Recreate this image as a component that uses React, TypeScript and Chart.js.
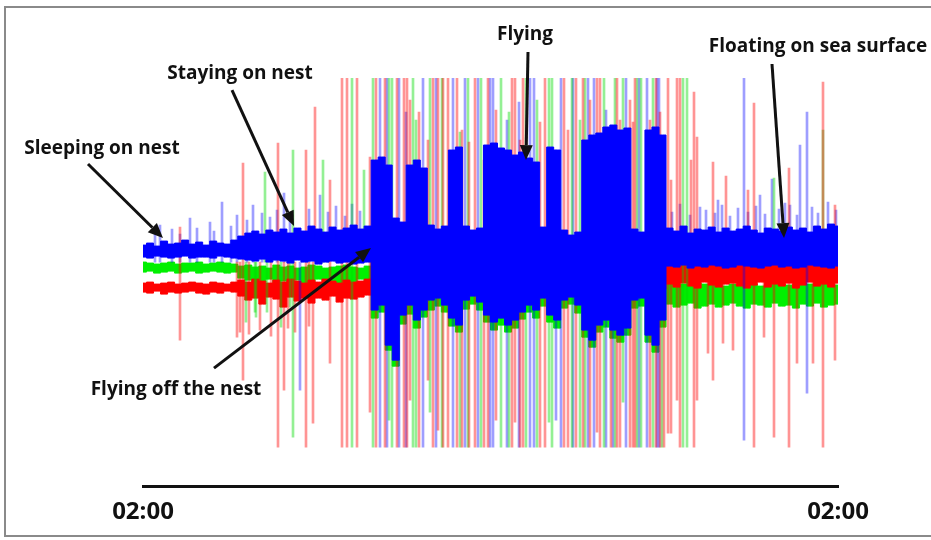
import React, { useEffect, useRef } from "react";
import { Chart, registerables } from "chart.js";

Chart.register(...registerables);

// x: time steps from 02:00 to 02:00 next day (0..695), y: raw acceleration units
const T_MAX = 695;
const tickValues = [0, 695];
const tickLabels = ["02:00", "02:00"];

// envelope of each axis signal, one value per time bin (100 bins over the day)
const blueHi = [
  17, 19, 16, 21, 18, 19, 22, 18, 20, 17, 21, 19, 18, 22,
  26, 29, 31, 28, 32, 30, 33, 29, 34, 31, 36, 33, 30, 35, 32, 34, 37, 33, 36,
  102, 105, 97, 44, 40, 97, 102, 94, 37, 33, 36, 112, 115, 36, 32, 34, 117, 119, 114, 112,
  107, 110, 104, 100, 35, 115, 112, 32, 27, 30, 122, 127, 129, 135, 137, 132, 134, 33, 30,
  132, 135, 127,
  34, 31, 36, 29, 33, 32, 35, 30, 34, 31, 33, 36, 32, 29, 34, 33, 31, 35, 32, 34, 30, 36,
  33, 38, 36,
];
const blueLo = [
  5, 4, 6, 5, 4, 5, 6, 4, 5, 5, 4, 6, 5, 4,
  3, 2, 1, 3, 0, 2, 1, -1, 2, 0, 1, -2, 0, 1, -1, 0, -2, -1, 0,
  -48, -43, -83, -98, -53, -43, -58, -48, -38, -36, -43, -56, -63, -38, -34, -40, -53, -60,
  -56, -63, -58, -50, -43, -48, -36, -53, -58, -38, -35, -43, -68, -78, -63, -58, -68, -73,
  -66, -38, -36, -73, -83, -58,
  -4, -5, -3, -6, -4, -5, -3, -4, -6, -5, -3, -4, -5, -6, -4, -3, -5, -4, -6, -5, -3, -4,
  -5, -6, -4,
];
const greenHi = [
  0, -1, -2, -1, 0, -2, -1, -1, 0, -2, -1, 0, -1, -2,
  -4, -3, -5, -4, -6, -3, -5, -4, -6, -5, -3, -4, -6, -5, -4, -3, -5, -6, -4,
  10, 12, 8, 11, 9, 13, 10, 7, 12, 9, 11, 8, 10, 13, 9, 12, 10, 8, 11, 9, 12, 10, 7, 11,
  9, 13, 10, 8, 12, 9, 11, 10, 8, 12, 9, 11, 13, 10, 8, 12, 9, 11,
  -21, -23, -22, -24, -21, -22, -23, -21, -24, -22, -23, -21, -22, -24, -23, -21, -22, -23,
  -24, -21, -22, -23, -21, -22, -23,
];
const greenLo = [
  -10, -9, -11, -10, -9, -11, -10, -9, -11, -10, -9, -10, -11, -10,
  -16, -18, -24, -20, -17, -26, -19, -22, -18, -28, -20, -17, -23, -19, -21, -18, -20, -17, -19,
  -56, -50, -88, -104, -62, -52, -66, -55, -48, -44, -50, -64, -70, -47, -42, -48, -60, -68,
  -63, -70, -66, -57, -50, -56, -44, -60, -66, -46, -42, -51, -75, -85, -70, -65, -76, -80,
  -73, -46, -44, -80, -90, -65,
  -42, -45, -43, -41, -46, -44, -42, -45, -43, -41, -44, -46, -42, -43, -45, -41, -44, -43,
  -46, -42, -44, -41, -45, -43, -42,
];
const redHi = [
  -21, -20, -22, -21, -20, -22, -21, -20, -21, -22, -20, -21, -22, -20,
  -18, -20, -17, -19, -21, -18, -20, -17, -19, -21, -18, -20, -17, -19, -21, -18, -20, -19, -17,
  4, 6, 2, 5, 3, 7, 4, 2, 6, 3, 5, 2, 4, 7, 3, 6, 4, 2, 5, 3, 6, 4, 2, 5, 3, 7, 4, 2, 6, 3,
  5, 4, 2, 6, 3, 5, 7, 4, 2, 6, 3, 5,
  0, -1, 1, 0, -2, 0, 1, -1, 0, 0, -1, 1, 0, -2, 0, 1, 0, -1, 0, 1, 0, -1, 0, 1, 0,
];
const redLo = [
  -30, -31, -29, -32, -30, -31, -30, -29, -31, -32, -30, -31, -29, -30,
  -34, -38, -36, -42, -35, -37, -45, -35, -39, -36, -41, -36, -38, -34, -40, -36, -37, -35, -33,
  -28, -26, -30, -27, -29, -25, -28, -30, -26, -29, -27, -30, -25, -28, -26, -29, -27, -30,
  -28, -26, -29, -27, -30, -25, -28, -26, -29, -27, -30, -28, -25, -29, -27, -30, -26, -28,
  -27, -29, -26, -30, -28, -27,
  -22, -25, -21, -24, -26, -20, -23, -25, -22, -21, -24, -26, -23, -20, -25, -22, -24, -21,
  -26, -23, -20, -24, -22, -25, -21,
];

// isolated spikes (time, low value, high value)
const redSpikeT = [
  37, 94, 97, 100, 106, 117, 128, 135, 141, 145, 152, 163, 166, 170, 172, 187, 199, 204, 214, 227,
  233, 242, 254, 261, 264, 267, 276, 285, 290, 295, 300, 305, 314, 319, 326, 332, 341, 345, 353,
  369, 372, 377, 380, 397, 402, 421, 425, 433, 440, 447, 454, 457, 468, 474, 477, 487, 490, 492,
  507, 513, 517, 521,
  525, 528, 534, 537, 548, 551, 554, 565, 570, 580, 583, 590, 605, 611, 621, 631, 646, 654,
  670, 680, 692,
];
const redSpikeLo = [
  -78, -75, -70, -118, -72, -68, -74, -185, -128, -66, -70, -185, -64, -161, 0, -101, -185, -185,
  -185, -150,
  -185, -185, -185, -185, -185, -138, -185, -118, -185, -168, -185, -185, -185, -185, -185, -185,
  -185, -185, -158, -185, -160, -185, -185, -185, -185, -185, -185, -185, -185, -185, -170, -185,
  -185, -185, -185, -185, -185, -185, -185, -185, -185, -185,
  -171, -171, -138, -185, 0, -185, -138, -91, -118, -81, 0, -88, 0, -185, -75, -175, -185,
  -101, -101, -185, -98,
];
const redSpikeHi = [
  35, 0, 0, 99, 0, 0, 0, 119, 0, 0, 0, 112, 0, 0, 155, 82, 184, 184, 184, 105,
  184, 184, 184, 184, 184, 162, 150, 122, 184, 184, 184, 184, 184, 132, 120, 184, 102, 184, 152,
  184, 184, 122, 184, 140, 184, 184, 132, 184, 184, 162, 184, 184, 122, 184, 142, 162, 140, 184,
  142, 184, 150, 112,
  184, 82, 184, 184, 102, 170, 125, 0, 100, 0, 86, 0, 72, 159, 0, 0, 94, 0, 0, 180, 57,
];
const greenSpikeT = [
  103, 112, 113, 122, 124, 138, 147, 150, 180, 209, 221,
  230, 246, 249, 270, 273, 287, 299, 317, 325, 338, 358, 366, 383, 394, 406, 409, 429, 437,
  442, 461, 472, 480, 494, 498, 510, 519,
  540, 544, 631, 680,
];
const greenSpikeLo = [
  -60, -50, -55, 0, -50, -65, -45, -175, 0, -185, 0,
  -185, -158, -185, -185, -185, -150, -185, -185, -185, -185, -185, -185, -185, -185, -160,
  -185, -185, -185, -185, -185, -185, -140, -185, -185, -185, -185,
  -185, -185, 0, 0,
];
const greenSpikeHi = [
  0, 0, 0, 90, 0, 0, 0, 112, 102, 184, 92,
  184, 184, 184, 184, 142, 184, 184, 130, 184, 184, 184, 150, 184, 162, 184, 184, 184, 142,
  184, 184, 184, 184, 184, 184, 184, 120,
  184, 184, 84, 132,
];
const blueSpikeT = [
  12, 17, 29, 37, 47, 54, 67, 71, 79, 88, 94, 104, 110, 119, 127, 134, 141, 147, 157, 166, 177,
  185, 193, 202, 209, 217,
  237, 244, 256, 263, 280, 293, 310, 322, 335, 347, 350, 364, 376, 387, 391, 413, 418, 430, 445,
  451, 463, 470, 483, 496, 504, 514, 516,
  529, 537, 547, 557, 563, 572, 575, 579, 587, 595, 601, 605, 613, 617, 622, 629, 636, 642, 647,
  654, 657, 664, 669, 675, 685, 693,
];
const blueSpikeLo = [
  0, 0, 0, 0, 0, 0, 0, 0, 0, 0, 0, 0, 0, 0, 0, 0, 0, 0, -128, 0, 0,
  0, 0, 0, 0, 0,
  -185, -185, -185, -185, -185, -185, -185, -185, -185, -185, -185, -185, -185, -185, -185, -158,
  -185, -185, -185, -185, -185, -185, -185, -185, -185, -185, -185,
  0, 0, 0, 0, 0, 0, 0, 0, 0, 0, -178, 0, 0, 0, 0, 0, 0, 0, 0, 0, 0, -131, 0, 0, 0, 0,
];
const blueSpikeHi = [
  30, 37, 33, 28, 44, 34, 40, 31, 60, 36, 47, 42, 57, 49, 45, 52, 69, 48, 0, 53, 67,
  50, 56, 46, 58, 51,
  184, 184, 184, 150, 184, 184, 184, 184, 184, 184, 184, 142, 160, 184, 184, 112, 184, 184,
  184, 184, 152, 130, 184, 184, 184, 184, 184,
  50, 58, 47, 55, 52, 49, 62, 57, 46, 54, 184, 50, 56, 67, 48, 83, 53, 59, 57, 47, 117, 150,
  55, 49, 60, 52,
];

// behaviour annotations: label position and arrow (tail -> head), in data units
const annoText = [
  "Sleeping on nest",
  "Staying on nest",
  "Flying",
  "Floating on sea surface",
  "Flying off the nest",
];
const annoTextT = [-41, 97, 382, 675, 33];
const annoTextV = [113, 188, 227, 215, -127];
const annoFromT = [-55, 89, 385, 629, 71];
const annoFromV = [98, 172, 210, 198, -106];
const annoToT = [20, 151, 383, 641, 228];
const annoToV = [24, 36, 102, 24, 14];

const binT = blueHi.map((_, i) => (i * T_MAX) / (blueHi.length - 1));
const toPts = (arr: number[]) => arr.map((v, i) => ({ x: binT[i], y: v }));
const toBars = (t: number[], lo: number[], hi: number[]) =>
  t.map((x, i) => ({ x, y: [lo[i], hi[i]] }));

const framePlugin = {
  id: "frame",
  beforeDraw(chart: any) {
    const { ctx, width } = chart;
    ctx.save();
    ctx.fillStyle = "#ffffff";
    ctx.fillRect(0, 0, chart.width, chart.height);
    ctx.strokeStyle = "#8a8a8a";
    ctx.lineWidth = 2;
    ctx.beginPath();
    ctx.moveTo(width, 7);
    ctx.lineTo(5, 7);
    ctx.lineTo(5, 536);
    ctx.lineTo(width, 536);
    ctx.stroke();
    ctx.restore();
  },
};

const annoPlugin = {
  id: "anno",
  afterDraw(chart: any) {
    const { ctx } = chart;
    const xs = chart.scales.x;
    const ys = chart.scales.y;
    ctx.save();
    ctx.fillStyle = "#111";
    ctx.strokeStyle = "#111";
    ctx.font = 'bold 19px "Open Sans"';
    ctx.textAlign = "center";
    ctx.textBaseline = "middle";
    annoText.forEach((txt, i) => {
      ctx.fillText(txt, xs.getPixelForValue(annoTextT[i]), ys.getPixelForValue(annoTextV[i]));
      const x1 = xs.getPixelForValue(annoFromT[i]);
      const y1 = ys.getPixelForValue(annoFromV[i]);
      const x2 = xs.getPixelForValue(annoToT[i]);
      const y2 = ys.getPixelForValue(annoToV[i]);
      const a = Math.atan2(y2 - y1, x2 - x1);
      const head = 15;
      const hw = 6.5;
      const bx = x2 - head * Math.cos(a);
      const by = y2 - head * Math.sin(a);
      ctx.lineWidth = 3;
      ctx.beginPath();
      ctx.moveTo(x1, y1);
      ctx.lineTo(bx, by);
      ctx.stroke();
      ctx.beginPath();
      ctx.moveTo(x2, y2);
      ctx.lineTo(bx + hw * Math.sin(a), by - hw * Math.cos(a));
      ctx.lineTo(bx - hw * Math.sin(a), by + hw * Math.cos(a));
      ctx.closePath();
      ctx.fill();
    });
    ctx.restore();
  },
};

function band(label: string, color: string, hi: number[], lo: number[], loIndex: number, order: number) {
  const common = {
    type: "line",
    borderColor: color,
    backgroundColor: color,
    borderWidth: 1,
    pointRadius: 0,
    tension: 0,
    stepped: "middle",
    order,
  };
  return [
    { ...common, label: label + " max", data: toPts(hi), fill: loIndex },
    { ...common, label: label + " min", data: toPts(lo), fill: false },
  ];
}

function spikes(label: string, color: string, t: number[], lo: number[], hi: number[]) {
  return {
    type: "bar",
    label,
    data: toBars(t, lo, hi),
    backgroundColor: color,
    borderWidth: 0,
    barThickness: 2,
    grouped: false,
    order: 2,
  };
}

export default function App() {
  const ref = useRef<HTMLCanvasElement>(null);
  useEffect(() => {
    const datasets: any[] = [
      ...band("Y axis", "rgb(0,0,255)", blueHi, blueLo, 1, 1),
      spikes("X spikes", "rgba(255,0,0,0.42)", redSpikeT, redSpikeLo, redSpikeHi),
      spikes("Z spikes", "rgba(0,220,0,0.42)", greenSpikeT, greenSpikeLo, greenSpikeHi),
      spikes("Y spikes", "rgba(0,0,255,0.38)", blueSpikeT, blueSpikeLo, blueSpikeHi),
      ...band("X axis", "rgb(255,0,0)", redHi, redLo, 6, 3),
      ...band("Z axis", "rgb(0,240,0)", greenHi, greenLo, 8, 4),
    ];
    const chart = new Chart(ref.current as HTMLCanvasElement, {
      type: "line",
      data: { datasets },
      options: {
        animation: false,
        responsive: false,
        devicePixelRatio: 1,
        events: [],
        layout: { padding: { left: 143, right: 93, top: 78, bottom: 1 } },
        plugins: { legend: { display: false }, tooltip: { enabled: false } },
        scales: {
          x: {
            type: "linear",
            min: 0,
            max: T_MAX,
            offset: false,
            grid: { display: false, drawTicks: false },
            border: { display: true, color: "#111", width: 3 },
            afterBuildTicks: (axis: any) => {
              axis.ticks = tickValues.map((v) => ({ value: v }));
            },
            ticks: {
              autoSkip: false,
              maxRotation: 0,
              padding: 12,
              color: "#111",
              font: { family: "Open Sans", weight: "bold", size: 24 },
              callback: (_v: any, i: number) => tickLabels[i],
            },
          },
          y: {
            display: false,
            min: -224,
            max: 184,
          },
        },
      },
      plugins: [framePlugin, annoPlugin],
    } as any);
    return () => chart.destroy();
  }, []);
  return (
    <div style={{ position: "fixed", left: 0, top: 0, width: 931, height: 540, background: "#fff" }}>
      <canvas ref={ref} width={931} height={540} />
    </div>
  );
}
